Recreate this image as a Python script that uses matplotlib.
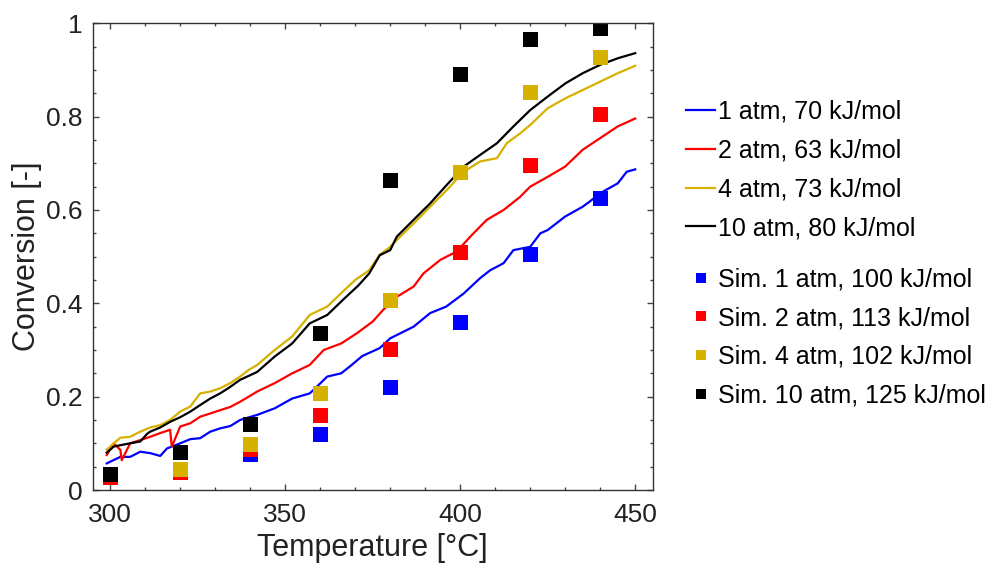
import matplotlib.pyplot as plt
from matplotlib.ticker import MultipleLocator, FixedLocator, FixedFormatter

plt.rcParams['font.family'] = ['Liberation Sans', 'DejaVu Sans']

# ----------------------------------------------------------------------------
# Data
# ----------------------------------------------------------------------------

# measured conversion curves (temperature, conversion)
t_1atm = [299, 302.9, 305.7, 308.6, 311.4, 314.3, 316.2, 320, 322.9, 325.7,
          328.6, 331.4, 334.3, 337.1, 342, 347, 352, 357, 359, 362, 366, 369,
          372, 377, 380, 386.7, 391.4, 396, 401, 405.7, 408.6, 412.4, 415.2,
          420, 422.9, 425, 430, 435, 437, 440, 445, 447.6, 450]
x_1atm = [0.057, 0.071, 0.071, 0.082, 0.079, 0.073, 0.089, 0.100, 0.109, 0.111,
          0.125, 0.132, 0.137, 0.150, 0.161, 0.175, 0.196, 0.207, 0.221, 0.243,
          0.250, 0.268, 0.287, 0.304, 0.325, 0.350, 0.379, 0.393, 0.421, 0.454,
          0.471, 0.486, 0.514, 0.521, 0.550, 0.557, 0.586, 0.607, 0.618, 0.636,
          0.657, 0.682, 0.687]

t_2atm = [299, 301, 302.9, 303.3, 305.7, 308.6, 311.4, 314.3, 317.1, 317.6,
          320, 322.9, 325.7, 328.6, 331.4, 334.3, 337.1, 342, 347, 352, 357,
          361, 366, 370.5, 375, 378, 381.9, 386.7, 389.5, 394.3, 399, 402.9,
          407.6, 412.4, 417.1, 420, 425, 430, 435, 440, 445, 450]
x_2atm = [0.075, 0.100, 0.086, 0.064, 0.100, 0.107, 0.114, 0.122, 0.129, 0.093,
          0.136, 0.143, 0.157, 0.164, 0.171, 0.178, 0.189, 0.211, 0.229, 0.250,
          0.268, 0.300, 0.314, 0.336, 0.361, 0.386, 0.414, 0.436, 0.464, 0.493,
          0.511, 0.543, 0.579, 0.600, 0.628, 0.650, 0.671, 0.693, 0.729, 0.754,
          0.779, 0.796]

t_4atm = [299, 301, 302.9, 305.7, 308.6, 311.4, 314.3, 317.1, 320, 322.9,
          325.7, 328.6, 331.4, 334.3, 337.1, 339.5, 342, 347, 352, 357, 362,
          367, 370, 374, 377, 380, 381.9, 386.7, 391.4, 396.2, 401, 405.7,
          410.5, 413.3, 417.1, 420, 425, 430, 435, 440, 445, 450]
x_4atm = [0.086, 0.100, 0.112, 0.114, 0.125, 0.134, 0.139, 0.150, 0.168, 0.179,
          0.207, 0.211, 0.218, 0.229, 0.243, 0.257, 0.268, 0.300, 0.329, 0.375,
          0.393, 0.429, 0.450, 0.471, 0.504, 0.521, 0.536, 0.571, 0.607, 0.643,
          0.682, 0.704, 0.711, 0.743, 0.764, 0.782, 0.818, 0.839, 0.857, 0.875,
          0.893, 0.909]

t_10atm = [299, 301, 302.9, 305.7, 308.6, 310.5, 311.4, 314.3, 317.1, 320,
           322.9, 325.7, 328.6, 331.4, 334.3, 337.1, 342, 347, 352, 357, 362,
           367, 371, 374, 377, 380, 381.9, 386.7, 391.4, 396.2, 401, 405.7,
           410.5, 415.2, 420, 425, 430, 435, 440, 445, 450]
x_10atm = [0.080, 0.093, 0.096, 0.100, 0.104, 0.120, 0.125, 0.134, 0.146, 0.156,
           0.168, 0.182, 0.196, 0.207, 0.221, 0.236, 0.253, 0.286, 0.314, 0.357,
           0.375, 0.411, 0.439, 0.464, 0.503, 0.514, 0.543, 0.579, 0.614, 0.654,
           0.693, 0.718, 0.743, 0.779, 0.814, 0.843, 0.871, 0.893, 0.911, 0.925,
           0.936]

# simulated conversion points
t_sim = [300, 320, 340, 360, 380, 400, 420, 440]
sim_1atm = [0.033, 0.043, 0.077, 0.120, 0.221, 0.361, 0.506, 0.625]
sim_2atm = [0.028, 0.038, 0.088, 0.161, 0.303, 0.511, 0.696, 0.806]
sim_4atm = [0.034, 0.046, 0.099, 0.207, 0.408, 0.681, 0.853, 0.928]
sim_10atm = [0.035, 0.082, 0.141, 0.336, 0.664, 0.891, 0.967, 0.990]

blue = '#0000ff'
red = '#ff0000'
gold = '#d6b100'
black = '#000000'

# ----------------------------------------------------------------------------
# Plotting
# ----------------------------------------------------------------------------

fig = plt.figure(figsize=(9.98, 5.64), dpi=100)
ax = fig.add_axes([0.0929, 0.1312, 0.5611, 0.8275])

lines = []
lines += ax.plot(t_1atm, x_1atm, color=blue, lw=1.6, label='1 atm, 70 kJ/mol')
lines += ax.plot(t_2atm, x_2atm, color=red, lw=1.6, label='2 atm, 63 kJ/mol')
lines += ax.plot(t_4atm, x_4atm, color=gold, lw=1.6, label='4 atm, 73 kJ/mol')
lines += ax.plot(t_10atm, x_10atm, color=black, lw=1.6, label='10 atm, 80 kJ/mol')

ms = 10.8
marks = []
marks += ax.plot(t_sim, sim_1atm, 's', color=blue, ms=ms, mew=0,
                 label='Sim. 1 atm, 100 kJ/mol')
marks += ax.plot(t_sim, sim_2atm, 's', color=red, ms=ms, mew=0,
                 label='Sim. 2 atm, 113 kJ/mol')
marks += ax.plot(t_sim, sim_4atm, 's', color=gold, ms=ms, mew=0,
                 label='Sim. 4 atm, 102 kJ/mol')
marks += ax.plot(t_sim, sim_10atm, 's', color=black, ms=ms, mew=0,
                 label='Sim. 10 atm, 125 kJ/mol')

ax.set_xlim(295, 455)
ax.set_ylim(0, 1)
ax.xaxis.set_major_locator(FixedLocator([300, 350, 400, 450]))
ax.xaxis.set_minor_locator(MultipleLocator(10))
ax.yaxis.set_major_locator(FixedLocator([0, 0.2, 0.4, 0.6, 0.8, 1]))
ax.yaxis.set_major_formatter(FixedFormatter(['0', '0.2', '0.4', '0.6', '0.8', '1']))
ax.yaxis.set_minor_locator(MultipleLocator(0.05))

ax.tick_params(which='both', direction='in', top=True, right=True,
               colors='#444444', labelcolor='#222222', width=1)
ax.tick_params(which='major', length=4.5, labelsize=19)
ax.tick_params(axis='x', which='major', pad=9)
ax.tick_params(axis='y', which='major', pad=7)
ax.tick_params(which='minor', length=2.5)
for s in ax.spines.values():
    s.set_color('#333333')
    s.set_linewidth(1)

ax.set_xlabel('Temperature [°C]', fontsize=22, color='#222222', labelpad=5)
ax.set_ylabel('Conversion [-]', fontsize=22, color='#222222', labelpad=3)

leg_kw = dict(frameon=False, fontsize=18, borderpad=0, borderaxespad=0,
              handlelength=1.16, handletextpad=0.12, labelspacing=0.59,
              loc='center left', bbox_transform=fig.transFigure)
leg1 = ax.legend(handles=lines, bbox_to_anchor=(0.6874, 0.6986), **leg_kw)
ax.add_artist(leg1)
ax.legend(handles=marks, bbox_to_anchor=(0.6874, 0.4016), markerscale=0.7,
          **leg_kw)

fig.savefig('out.png', dpi=100)
